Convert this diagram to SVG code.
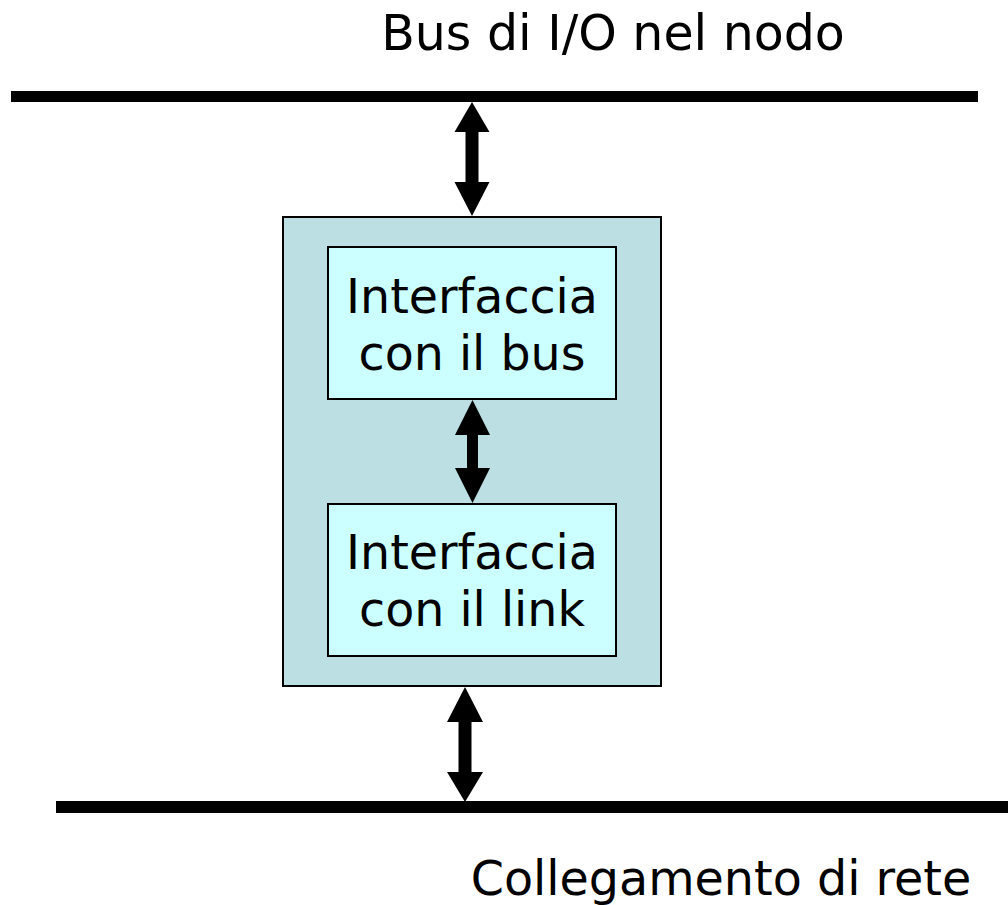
<svg xmlns="http://www.w3.org/2000/svg" width="1008" height="905" viewBox="0 0 1008 905">
<style>
.t{font-family:"DejaVu Sans","Verdana",sans-serif;fill:#000;text-anchor:middle}
.big{font-size:49px}
.big2{font-size:47.6px}
.in{font-size:47.5px}
.outer{fill:#BBDFE2;stroke:#000;stroke-width:2}
.inner{fill:#CCFFFF;stroke:#000;stroke-width:2}
.bus{fill:#000}
.arr{fill:#000}
</style>
<rect width="1008" height="905" fill="#fff"/>
<g id="bus-top">
<rect class="bus" x="11" y="91" width="967" height="11"/>
<text class="t big" x="613" y="50">Bus di I/O nel nodo</text>
</g>
<g id="bus-bottom">
<rect class="bus" x="56" y="801" width="952" height="12"/>
<text class="t big2" x="721" y="895">Collegamento di rete</text>
</g>
<g id="adapter">
<rect class="outer" x="283" y="217" width="378" height="469"/>
</g>
<g id="iface-bus">
<rect class="inner" x="328" y="247" width="288" height="152"/>
<text class="t in" x="472" y="313">Interfaccia</text>
<text class="t in" x="472" y="370">con il bus</text>
</g>
<g id="iface-link">
<rect class="inner" x="328" y="504" width="288" height="152"/>
<text class="t in" x="472" y="569">Interfaccia</text>
<text class="t in" x="472" y="626">con il link</text>
</g>
<g id="connectors">
<polygon class="arr" points="472,102 489.5,132 478.5,132 478.5,182 489.5,182 472,216 454.5,182 465.5,182 465.5,132 454.5,132"/>
<polygon class="arr" points="472.5,400 490,435 478,435 478,468 490,468 472.5,503 455,468 467,468 467,435 455,435"/>
<polygon class="arr" points="465,687 483,722 471.5,722 471.5,772 483,772 465,802 447,772 458.5,772 458.5,722 447,722"/>
</g>
</svg>
